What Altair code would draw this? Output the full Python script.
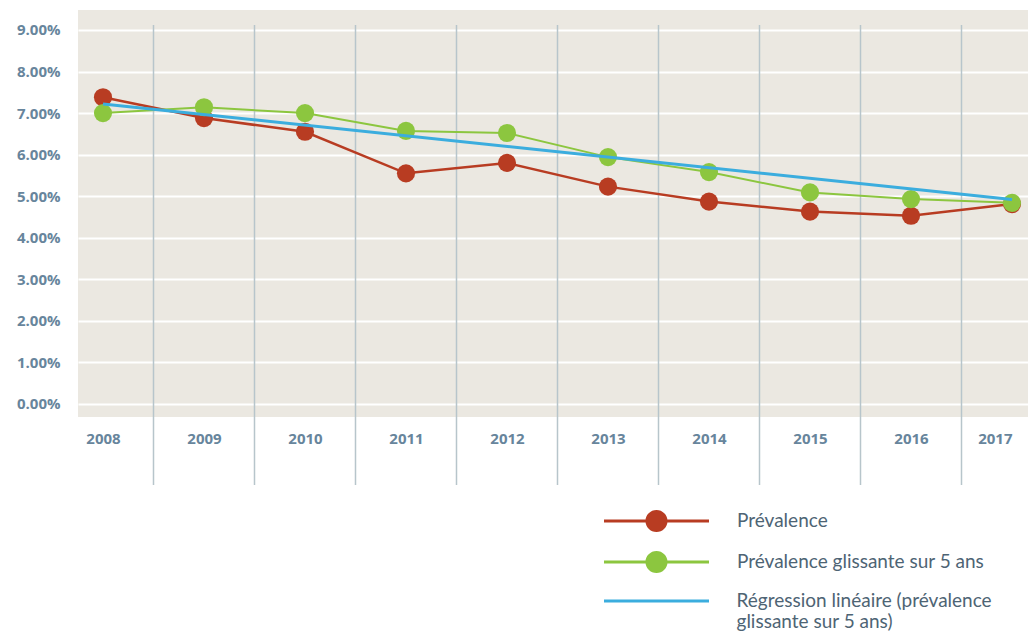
import altair as alt
import pandas as pd

years = [2008, 2009, 2010, 2011, 2012, 2013, 2014, 2015, 2016, 2017]
prevalence = [7.38, 6.88, 6.55, 5.55, 5.80, 5.23, 4.87, 4.63, 4.53, 4.81]
glissante = [7.00, 7.14, 7.00, 6.57, 6.52, 5.94, 5.58, 5.09, 4.93, 4.84]
reg_years = [2008, 2017]
regression = [7.22, 4.92]
series_names = [
    "Prévalence",
    "Prévalence glissante sur 5 ans",
    "Régression linéaire (prévalence glissante sur 5 ans)",
]
colors = ["#b83c22", "#8cc63f", "#3badde"]
y_ticks = [0, 1, 2, 3, 4, 5, 6, 7, 8, 9]

df_red = pd.DataFrame({"year": years, "value": prevalence, "series": series_names[0]})
df_green = pd.DataFrame({"year": years, "value": glissante, "series": series_names[1]})
df_pts = pd.concat([df_red, df_green], ignore_index=True)
df_blue = pd.DataFrame({"year": reg_years, "value": regression, "series": series_names[2]})
df_sep = pd.DataFrame({"x": [y + 0.5 for y in years[:-1]]})

axis_color = "#67859c"
legend_text = "#4e6474"
x_scale = alt.Scale(domain=[2007.7525, 2017.1584], nice=False, zero=False)
y_scale = alt.Scale(domain=[-0.313, 9.48], nice=False, zero=False)

circle_line = ("M-1,-0.028L1,-0.028L1,0.028L-1,0.028Z "
               "M-0.21,0A0.21,0.21,0,1,1,0.21,0A0.21,0.21,0,1,1,-0.21,0Z")
line_only = "M-1,0L1,0"

legend_common = dict(
    orient="none",
    title=None,
    padding=0,
    symbolSize=11025,
    clipHeight=24,
    labelFont="Lato",
    labelFontSize=19,
    labelColor=legend_text,
    labelLimit=500,
    symbolOpacity=1,
)

legend_pts = alt.Legend(
    legendX=526, legendY=499, rowPadding=17, labelOffset=28,
    symbolType=circle_line, symbolStrokeWidth=0, **legend_common,
)
legend_reg = alt.Legend(
    legendX=524.5, legendY=579, labelOffset=26,
    symbolType=line_only, symbolStrokeWidth=3,
    labelExpr="['Régression linéaire (prévalence', 'glissante sur 5 ans)']",
    **legend_common,
)

pts_scale = alt.Scale(domain=series_names[:2], range=colors[:2])
reg_scale = alt.Scale(domain=series_names[2:], range=colors[2:])

x_enc = alt.X(
    "year:Q",
    scale=x_scale,
    axis=alt.Axis(
        values=years, format="d", title=None, grid=False, domain=False, ticks=False,
        labelPadding=14, labelFont="Open Sans", labelFontSize=15, labelFontWeight="bold",
        labelColor=axis_color, labelFlush=20,
    ),
)
y_enc = alt.Y(
    "value:Q",
    scale=y_scale,
    axis=alt.Axis(
        values=y_ticks, title=None, grid=True, gridColor="#ffffff", gridWidth=2,
        domain=False, ticks=False, labelPadding=18,
        labelExpr="format(datum.value, '.2f') + '%'",
        labelFont="Open Sans", labelFontSize=15, labelFontWeight="bold",
        labelColor=axis_color,
    ),
)

seps = alt.Chart(df_sep).mark_rule(color="#b7c5cb", strokeWidth=1.5).encode(
    x=alt.X("x:Q", scale=x_scale), y=alt.value(15), y2=alt.value(475)
)

c_noleg = alt.Color("series:N", scale=pts_scale, legend=None)
c_leg = alt.Color("series:N", scale=pts_scale, legend=legend_pts)

# invisible point layer listed first: it provides the shared legend entries
legend_src = alt.Chart(df_pts).mark_point(filled=True, size=330, opacity=0).encode(
    x=x_enc, y=y_enc, color=c_leg)
red_line = alt.Chart(df_red).mark_line(strokeWidth=2.5).encode(x=x_enc, y=y_enc, color=c_noleg)
red_pts = alt.Chart(df_red).mark_point(filled=True, size=330, opacity=1).encode(
    x=x_enc, y=y_enc, color=c_noleg)
green_line = alt.Chart(df_green).mark_line(strokeWidth=2).encode(x=x_enc, y=y_enc, color=c_noleg)
green_pts = alt.Chart(df_green).mark_point(filled=True, size=330, opacity=1).encode(
    x=x_enc, y=y_enc, color=c_noleg)

main = alt.layer(legend_src, seps, red_line, red_pts, green_line, green_pts)

blue_line = alt.Chart(df_blue).mark_line(strokeWidth=3).encode(
    x=x_enc, y=y_enc,
    color=alt.Color("series:N", scale=reg_scale, legend=legend_reg),
)

chart = alt.layer(main, blue_line).resolve_scale(color="independent").properties(
    width=950,
    height=407,
    autosize=alt.AutoSizeParams(type="none"),
    padding={"left": 70, "top": 2, "right": 0, "bottom": 214},
).configure(
    background="#ffffff"
).configure_view(
    fill="#ebe8e1", strokeWidth=0
)

chart.save("out.html", embed_options={"renderer": "svg", "actions": False})
